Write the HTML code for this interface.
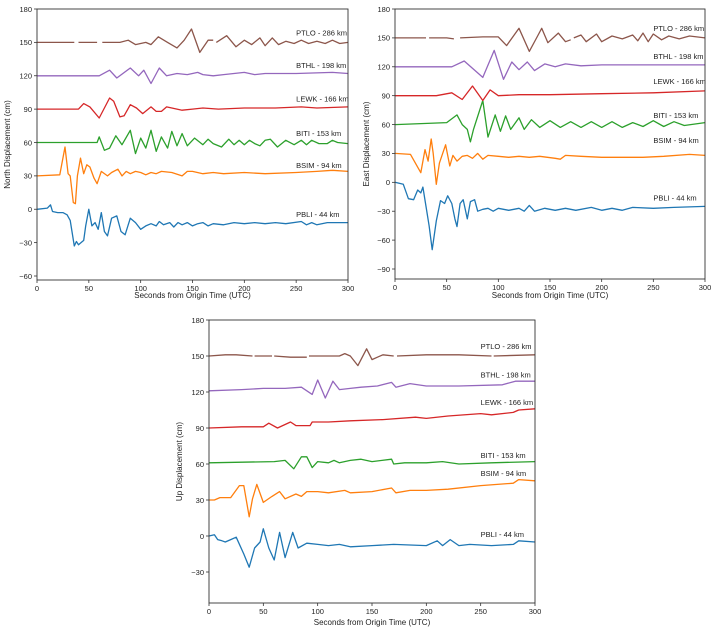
<!DOCTYPE html>
<html><head><meta charset="utf-8">
<style>
html,body{margin:0;padding:0;background:#fff;}
svg{display:block;font-family:"Liberation Sans",sans-serif;}
</style></head>
<body>
<svg id="chart" width="717" height="635" viewBox="0 0 717 635" xmlns="http://www.w3.org/2000/svg"></svg>
<script>
const stations = ["PBLI - 44 km","BSIM - 94 km","BITI - 153 km","LEWK - 166 km","BTHL - 198 km","PTLO - 286 km"];
const colors = ["#1f77b4","#ff7f0e","#2ca02c","#d62728","#9467bd","#8c564b"];
const xTicks = [0,50,100,150,200,250,300];

// North component [t, value], null = gap
const northPBLI = [[0,0],[10,1],[13,4],[15,-2],[20,-3],[25,-3],[29,-5],[32,-10],[36,-33],[38,-29],[40,-32],[45,-28],[47,-15],[50,0],[53,-15],[56,-12],[59,-18],[62,-3],[65,-20],[68,-24],[72,-8],[77,-6],[81,-20],[85,-23],[90,-8],[95,-12],[100,-18],[105,-15],[110,-13],[115,-15],[118,-11],[122,-14],[128,-12],[132,-16],[136,-12],[140,-14],[145,-12],[150,-15],[155,-13],[160,-12],[165,-15],[170,-13],[180,-14],[190,-12],[200,-13],[210,-12],[220,-13],[230,-12],[240,-13],[255,-11],[260,-14],[265,-12],[270,-14],[280,-12],[300,-12]];
const northBSIM = [[0,30],[22,31],[27,56],[30,32],[32,30],[35,6],[37,5],[39,30],[42,46],[45,32],[48,40],[51,38],[55,28],[58,23],[62,34],[68,30],[72,33],[78,36],[82,30],[86,34],[90,32],[95,34],[100,33],[105,31],[110,33],[115,32],[120,34],[130,33],[140,30],[145,34],[150,34],[160,32],[170,33],[180,32],[200,33],[220,32],[250,33],[270,34],[285,35],[300,34]];
const northBITI = [[0,60],[58,60],[60,65],[65,53],[70,55],[76,66],[82,58],[90,71],[95,50],[100,64],[105,55],[110,71],[115,52],[120,65],[126,55],[130,70],[135,57],[140,68],[145,57],[152,64],[160,58],[165,63],[170,59],[178,56],[185,63],[190,58],[195,62],[200,58],[205,62],[210,59],[215,57],[220,62],[225,63],[232,56],[240,62],[248,58],[255,62],[260,58],[265,62],[272,59],[280,59],[285,62],[290,60],[300,59]];
const northLEWK = [[0,90],[40,90],[45,95],[51,92],[60,82],[70,100],[74,97],[80,83],[84,84],[90,94],[96,91],[102,86],[110,92],[115,88],[120,88],[125,92],[130,91],[140,89],[150,90],[160,91],[175,90],[200,91],[230,91],[255,92],[270,91],[300,92]];
const northBTHL = [[0,120],[60,120],[70,125],[77,118],[90,127],[98,120],[103,125],[110,113],[118,127],[125,120],[135,122],[145,121],[155,123],[160,121],[170,120],[180,121],[200,123],[210,121],[220,122],[250,122],[285,123],[300,122]];
const northPTLO = [[0,150],[36,150],null,[40,150],[58,150],null,[63,150],[80,150],[88,152],[95,148],[105,150],[110,148],[117,155],[126,150],[135,145],[142,152],[149,162],[157,141],[165,152],[170,152],null,[173,150],[183,156],[192,146],[200,152],[207,148],[215,154],[220,147],[227,154],[233,148],[240,151],[248,149],[255,152],[262,149],[270,151],[278,149],[285,152],[292,149],[300,150]];

// East component
const eastPBLI = [[0,0],[8,-2],[13,-17],[18,-18],[22,-8],[25,-11],[27,-5],[30,-25],[33,-45],[36,-70],[40,-40],[44,-19],[48,-22],[51,-14],[55,-22],[58,-38],[60,-46],[63,-22],[66,-18],[70,-38],[73,-20],[77,-18],[80,-30],[85,-28],[90,-27],[95,-30],[100,-27],[110,-29],[120,-27],[125,-30],[130,-24],[135,-30],[145,-27],[155,-29],[165,-27],[175,-29],[190,-26],[200,-29],[210,-27],[220,-29],[230,-26],[250,-27],[270,-26],[300,-25]];
const eastBSIM = [[0,30],[15,29],[25,10],[29,34],[32,22],[35,45],[37,30],[40,-2],[43,20],[49,39],[53,17],[56,28],[60,22],[65,27],[70,28],[75,25],[80,30],[85,24],[90,28],[100,27],[110,26],[120,27],[130,26],[140,27],[155,25],[160,24],[165,28],[180,27],[200,26],[240,26],[260,27],[285,29],[300,28]];
const eastBITI = [[0,60],[50,62],[60,70],[65,60],[70,55],[73,42],[76,55],[85,85],[90,47],[97,70],[102,53],[107,69],[112,55],[120,67],[125,55],[132,65],[140,57],[150,64],[160,57],[170,63],[180,57],[190,63],[200,57],[210,63],[220,57],[230,62],[240,58],[250,64],[260,58],[270,63],[280,59],[300,62]];
const eastLEWK = [[0,90],[40,90],[55,93],[65,86],[75,100],[85,85],[92,96],[100,90],[120,91],[150,91],[200,92],[250,93],[300,95]];
const eastBTHL = [[0,120],[55,120],[67,126],[85,109],[96,137],[105,107],[113,125],[120,117],[128,125],[135,116],[145,123],[155,120],[165,123],[180,121],[200,122],[250,122],[300,122]];
const eastPTLO = [[0,150],[30,150],null,[33,150],[50,150],[57,149],null,[63,150],[85,151],[100,151],[108,142],[120,160],[130,136],[138,152],[142,160],[148,145],[158,155],[165,146],[170,148],null,[173,150],[180,153],[185,146],[195,154],[200,146],[210,152],[220,149],[230,153],[235,147],[240,155],[245,146],[250,154],[258,148],[265,152],[275,149],[285,152],[300,150]];

// Up component
const upPBLI = [[0,0],[5,1],[8,-3],[12,-4],[15,-5],[20,-3],[25,-1],[32,-15],[37,-26],[42,-10],[47,-5],[50,6],[55,-10],[60,-20],[65,3],[70,-18],[77,3],[82,-10],[90,-6],[100,-7],[110,-8],[120,-7],[130,-9],[150,-8],[170,-7],[200,-8],[210,-4],[215,-8],[222,-3],[230,-8],[240,-7],[260,-8],[280,-7],[285,-4],[300,-5]];
const upBSIM = [[0,30],[5,30],[10,32],[20,32],[28,42],[32,42],[37,16],[40,31],[44,43],[50,28],[58,33],[65,37],[70,31],[80,35],[85,33],[90,37],[100,37],[110,36],[125,38],[130,36],[150,37],[168,40],[172,36],[185,38],[200,38],[220,39],[250,42],[280,44],[285,47],[300,46]];
const upBITI = [[0,61],[60,62],[70,63],[78,56],[85,66],[90,66],[95,57],[100,62],[110,61],[115,63],[120,61],[130,63],[140,64],[150,62],[168,64],[170,60],[180,61],[200,61],[215,62],[230,60],[260,61],[300,62]];
const upLEWK = [[0,90],[30,91],[50,91],[55,94],[63,90],[75,95],[80,92],[93,92],[95,95],[110,95],[130,96],[160,97],[190,99],[200,98],[220,100],[250,102],[260,101],[280,103],[285,105],[300,106]];
const upBTHL = [[0,121],[30,122],[50,123],[70,123],[85,124],[95,118],[100,130],[107,115],[114,129],[120,122],[130,123],[140,124],[155,125],[168,128],[172,124],[185,127],[200,125],[230,125],[270,126],[282,129],[300,129]];
const upPTLO = [[0,150],[15,151],[25,151],[40,150],null,[42,150],[58,150],null,[60,150],[75,149],[90,149],null,[92,150],[120,150],[125,152],[130,150],[137,142],[145,156],[150,147],[155,149],[160,151],[170,150],null,[173,150],[200,151],[230,151],[260,150],null,[262,150],[300,151]];

const panels = [
  {name:"north", x0:37, x1:348, yTop:9, yBot:280, vTop:180, vBotTick:-60, yTickBot:276, ticks:[-60,-30,0,30,60,90,120,150,180], ylabel:"North Displacement (cm)", ylx:10, xl:298,
   series:[northPBLI,northBSIM,northBITI,northLEWK,northBTHL,northPTLO], labelV:[-7,37,66,97,127,156]},
  {name:"east", x0:395, x1:705, yTop:9, yBot:279, vTop:180, vBotTick:-90, yTickBot:269, ticks:[-90,-60,-30,0,30,60,90,120,150,180], ylabel:"East Displacement (cm)", ylx:369, xl:298,
   series:[eastPBLI,eastBSIM,eastBITI,eastLEWK,eastBTHL,eastPTLO], labelV:[-19,41,67,102,128,157]},
  {name:"up", x0:209, x1:535, yTop:320, yBot:603, vTop:180, vBotTick:-30, yTickBot:572, ticks:[-30,0,30,60,90,120,150,180], ylabel:"Up Displacement (cm)", ylx:182, xl:625,
   series:[upPBLI,upBSIM,upBITI,upLEWK,upBTHL,upPTLO], labelV:[-1,50,65,109,132,156]}
];

const svg = document.getElementById('chart');
const NS = "http://www.w3.org/2000/svg";
function mk(tag, attrs, parent){
  const e = document.createElementNS(NS, tag);
  for (const k in attrs) e.setAttribute(k, attrs[k]);
  (parent||svg).appendChild(e);
  return e;
}

panels.forEach(p => {
  const xs = t => p.x0 + (t/300)*(p.x1-p.x0);
  const ys = v => p.yTop + (p.vTop - v)/(p.vTop - p.vBotTick)*(p.yTickBot - p.yTop);
  const g = mk('g', {});
  
  

  p.series.forEach((data, i) => {
    let d = "", pen = false;
    data.forEach(pt => {
      if (pt === null) { pen = false; return; }
      d += (pen ? "L" : "M") + xs(pt[0]).toFixed(1) + " " + ys(pt[1]).toFixed(1) + " ";
      pen = true;
    });
    const path = mk('path', {d:d, fill:'none', stroke:colors[i], 'stroke-width':1.3, 'stroke-linejoin':'round'}, g);
    
    
    const lbl = mk('text', {x:xs(250), y:ys(p.labelV[i]), 'font-size':7.5, fill:'#222'}, g);
    lbl.textContent = stations[i];
    
    
  });

  const frame = mk('rect', {x:p.x0, y:p.yTop, width:p.x1-p.x0, height:p.yBot-p.yTop, fill:'none', stroke:'#333', 'stroke-width':0.9}, g);
  
  

  p.ticks.forEach(v => {
    const y = ys(v);
    mk('line', {x1:p.x0-3, x2:p.x0, y1:y, y2:y, stroke:'#333', 'stroke-width':0.8}, g);
    const t = mk('text', {x:p.x0-5, y:y+2.8, 'font-size':7.5, 'text-anchor':'end', fill:'#222'}, g);
    t.textContent = v < 0 ? '\u2212' + Math.abs(v) : String(v);
    
    
  });
  xTicks.forEach(v => {
    const x = xs(v);
    mk('line', {x1:x, x2:x, y1:p.yBot, y2:p.yBot+3, stroke:'#333', 'stroke-width':0.8}, g);
    const t = mk('text', {x:x, y:p.yBot+11, 'font-size':7.5, 'text-anchor':'middle', fill:'#222'}, g);
    t.textContent = String(v);
    
    
  });
  const xl = mk('text', {x:(p.x0+p.x1)/2, y:p.xl, 'font-size':8, 'text-anchor':'middle', fill:'#222'}, g);
  xl.textContent = "Seconds from Origin Time (UTC)";
  
  
  const cy = (p.yTop+p.yBot)/2;
  const yl = mk('text', {x:p.ylx, y:cy, 'font-size':8, 'text-anchor':'middle', fill:'#222', transform:'rotate(-90 '+p.ylx+' '+cy+')'}, g);
  yl.textContent = p.ylabel;
  
  
});
</script>
</body></html>
